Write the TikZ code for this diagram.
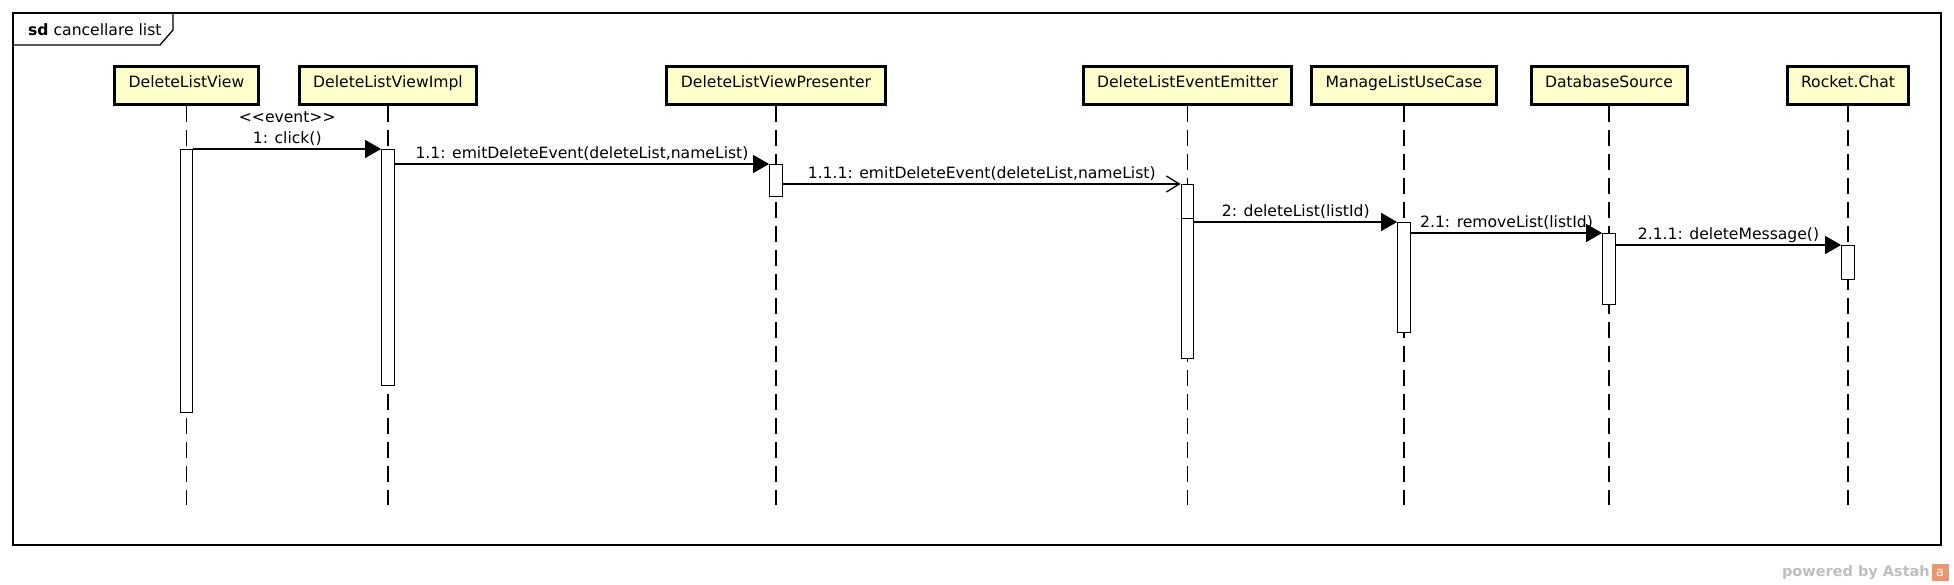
\documentclass[tikz,border=0pt]{standalone}
\usepackage{fontspec}
\setmainfont{DejaVu Sans}
\usetikzlibrary{arrows.meta}
\definecolor{headfill}{RGB}{255,255,204}
\definecolor{astahgray}{RGB}{190,190,190}
\definecolor{astahorange}{RGB}{236,150,110}

\begin{document}
\begin{tikzpicture}[x=1pt,y=-1pt]
  \tikzset{head/.style = {draw, line width=3pt, fill=headfill, minimum height=38pt, inner xsep=14pt, inner ysep=0pt, text height=12pt, text depth=8pt, font=\fontsize{15.6}{19}\selectfont}}
  \tikzset{bar/.style = {draw, line width=1.3pt, fill=white, minimum width=12.5pt, inner sep=0pt, anchor=north}}
  \tikzset{lifeline/.style = {line width=1.2pt, dash pattern=on 16pt off 8pt}}
  \tikzset{sync/.style = {line width=1.3pt, -{Triangle[length=16pt,width=18pt]}}}
  \tikzset{async/.style = {line width=1.3pt, -{Straight Barb[length=13pt,width=16pt]}}}
  \tikzset{msglabel/.style = {midway, anchor=base, yshift=5pt, inner sep=0pt, font=\fontsize{15.6}{19}\selectfont}}

  \useasboundingbox (0,0) rectangle (1954,585);

  % frame
  \draw[line width=1.3pt] (13,13) rectangle (1941,545);
  \draw[line width=1.3pt] (13,45) -- (160,45) -- (173,30) -- (173,13);
  \node[anchor=base west, inner sep=0pt, font=\fontsize{15.6}{19}\selectfont] (title) at (28,36) {\textbf{sd} cancellare list};

	\node[head] (0) at (186.5,85.5) {DeleteListView};
	\node[head] (1) at (388,85.5) {DeleteListViewImpl};
	\node[head] (2) at (776,85.5) {DeleteListViewPresenter};
	\node[head] (3) at (1187.5,85.5) {DeleteListEventEmitter};
	\node[head] (4) at (1404,85.5) {ManageListUseCase};
	\node[head] (5) at (1609,85.5) {DatabaseSource};
	\node[head] (6) at (1848,85.5) {Rocket.Chat};

  \coordinate (end) at (0,505);
    \foreach \i in {0,...,6}
    \draw[lifeline] (\i.south) -- (\i.south |- end);

	\node[bar, minimum height=263pt] (b0) at (186.5,149) {};
	\node[bar, minimum height=236pt] (b1) at (388,149) {};
	\node[bar, minimum height=32pt] (b2) at (776,164) {};
	\node[bar, minimum height=34pt] (b3) at (1187.5,184) {};
	\node[bar, minimum height=140pt] (b3b) at (1187.5,218) {};
	\node[bar, minimum height=110pt] (b4) at (1404,222) {};
	\node[bar, minimum height=71pt] (b5) at (1609,233) {};
	\node[bar, minimum height=34pt] (b6) at (1848,245) {};

  \draw[sync] (b0.east |- b1.north) -- (b1.north west)
    node[msglabel] {1: click()}
    node[msglabel, yshift=21pt] {<\kern0pt<event>\kern0pt>};

    \foreach \from/\to/\kind/\text in {b1/b2/sync/{1.1: emitDeleteEvent(deleteList,nameList)},
    b2/b3/async/{1.1.1: emitDeleteEvent(deleteList,nameList)},b3b/b4/sync/{2: deleteList(listId)},
    b4/b5/sync/{2.1: removeList(listId)},b5/b6/sync/{2.1.1: deleteMessage()}
    }
    \draw[\kind] (\from.east |- \to.north) -- (\to.north west) node[msglabel] {\text};

  \node[anchor=base east, inner sep=0pt, text=astahgray, font=\fontsize{14.5}{17}\selectfont\bfseries] (wm) at (1930,576) {powered by Astah};
  \node[fill=astahorange, minimum size=17pt, inner sep=0pt, text=white, font=\fontsize{13}{13}\selectfont] (logo) at (1940,572.5) {a};

\end{tikzpicture}
\end{document}
